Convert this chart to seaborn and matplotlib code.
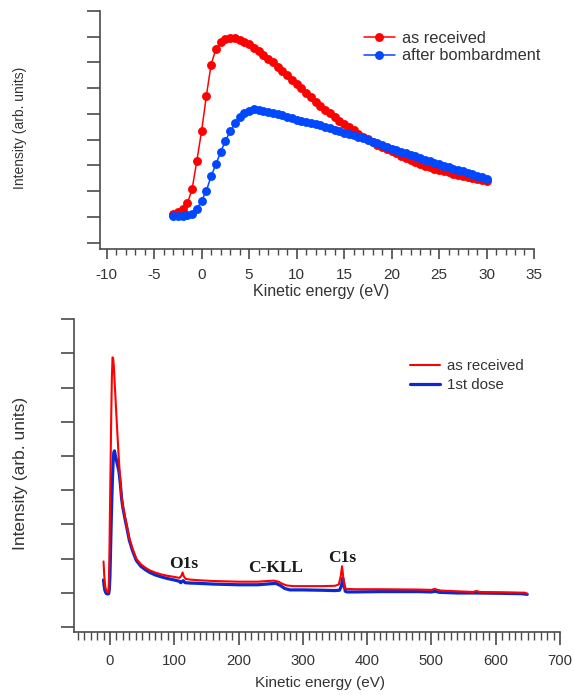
import numpy as np
import matplotlib
matplotlib.use("Agg")
import matplotlib.pyplot as plt
import seaborn as sns
from matplotlib.ticker import MultipleLocator

sns.set_theme(style="ticks")
plt.rcParams['font.family'] = ['Liberation Sans', 'DejaVu Sans']
plt.rcParams['axes.unicode_minus'] = False

# --- top panel: low energy region (eV) ---
energy_top = [-3.0, -2.5, -2.0, -1.5, -1.0, -0.5, 0.0, 0.5, 1.0, 1.5, 2.0, 2.5, 3.0, 3.5,
              4.0, 4.5, 5.0, 5.5, 6.0, 6.5, 7.0, 7.5, 8.0, 8.5, 9.0, 9.5, 10.0, 10.5,
              11.0, 11.5, 12.0, 12.5, 13.0, 13.5, 14.0, 14.5, 15.0, 15.5, 16.0, 16.5,
              17.0, 17.5, 18.0, 18.5, 19.0, 19.5, 20.0, 20.5, 21.0, 21.5, 22.0, 22.5,
              23.0, 23.5, 24.0, 24.5, 25.0, 25.5, 26.0, 26.5, 27.0, 27.5, 28.0, 28.5,
              29.0, 29.5, 30.0]
received_top = [1.12, 1.20, 1.32, 1.53, 2.08, 3.19, 4.34, 5.70, 6.92, 7.52, 7.80, 7.91, 7.95, 7.94,
                7.89, 7.81, 7.71, 7.58, 7.44, 7.30, 7.15, 7.00, 6.84, 6.67, 6.50, 6.33, 6.16, 5.99,
                5.82, 5.65, 5.48, 5.31, 5.16, 5.02, 4.87, 4.73, 4.60, 4.48, 4.36, 4.24,
                4.12, 4.01, 3.90, 3.80, 3.71, 3.63, 3.56, 3.47, 3.38, 3.29, 3.20, 3.12,
                3.05, 2.99, 2.93, 2.88, 2.83, 2.78, 2.73, 2.68, 2.63, 2.58, 2.54, 2.50,
                2.46, 2.42, 2.38]
bombarded_top = [1.05, 1.04, 1.04, 1.06, 1.12, 1.31, 1.63, 2.02, 2.58, 3.04, 3.52, 3.95, 4.32, 4.64,
                 4.88, 5.02, 5.12, 5.18, 5.15, 5.12, 5.08, 5.04, 5.00, 4.96, 4.90, 4.84, 4.78, 4.74,
                 4.70, 4.65, 4.61, 4.56, 4.50, 4.44, 4.38, 4.33, 4.27, 4.22, 4.17, 4.11,
                 4.06, 4.00, 3.93, 3.86, 3.79, 3.72, 3.65, 3.59, 3.53, 3.47, 3.41, 3.36,
                 3.29, 3.23, 3.16, 3.10, 3.04, 2.99, 2.94, 2.88, 2.83, 2.78, 2.72, 2.66,
                 2.60, 2.54, 2.48]

# --- bottom panel: survey spectrum (eV) ---
energy_red = [-10, -9, -8, -7, -5, -3, -2, -1, 0, 1, 2, 3, 4, 5, 6, 8, 10, 12, 14, 16, 18, 20,
              23, 26, 30, 35, 41, 48, 55, 62, 70, 80, 90, 100, 108, 111, 113, 115, 118, 125,
              140, 160, 180, 200, 230, 245, 255, 262, 268, 275, 285, 300, 330, 350, 356, 359,
              361, 363, 365, 368, 380, 420, 480, 500, 505, 510, 515, 540, 565, 570, 575, 610,
              640, 645, 649]
received_survey = [1.92, 1.55, 1.30, 1.15, 1.05, 1.02, 1.10, 1.90, 3.40, 4.80, 6.20, 7.30, 7.88,
                   7.85, 7.62, 6.90, 6.20, 5.50, 4.85, 4.30, 3.80, 3.55, 3.25, 2.98, 2.60, 2.30,
                   2.00, 1.84, 1.74, 1.66, 1.60, 1.54, 1.50, 1.47, 1.44, 1.50, 1.60, 1.48, 1.41,
                   1.39, 1.37, 1.35, 1.34, 1.33, 1.33, 1.35, 1.36, 1.33, 1.27, 1.22, 1.20, 1.20,
                   1.20, 1.21, 1.25, 1.50, 1.78, 1.45, 1.15, 1.12, 1.11, 1.11, 1.10, 1.09, 1.12,
                   1.09, 1.07, 1.05, 1.03, 1.06, 1.03, 1.02, 1.01, 1.01, 0.98]
energy_blue = [-10, -9, -8, -6, -4, -2, -1, 0, 1, 2, 3, 4, 5, 6, 7, 8, 10, 12, 14, 16, 18, 20,
               23, 26, 30, 35, 41, 48, 55, 62, 70, 80, 90, 100, 108, 110, 112, 114, 117, 125,
               140, 160, 180, 200, 230, 250, 258, 265, 272, 280, 300, 330, 350, 357, 360, 362,
               364, 366, 369, 380, 420, 480, 500, 506, 512, 540, 570, 610, 640, 649]
dose_survey = [1.38, 1.20, 1.08, 0.99, 0.97, 0.98, 1.10, 1.50, 2.30, 3.10, 3.80, 4.40, 4.85,
               5.10, 5.15, 5.05, 4.88, 4.72, 4.55, 4.22, 3.78, 3.50, 3.20, 2.93, 2.55, 2.24,
               1.95, 1.78, 1.68, 1.60, 1.53, 1.47, 1.42, 1.38, 1.34, 1.30, 1.33, 1.36, 1.30,
               1.29, 1.28, 1.26, 1.25, 1.24, 1.24, 1.27, 1.28, 1.22, 1.13, 1.09, 1.09, 1.08,
               1.07, 1.08, 1.20, 1.43, 1.25, 1.05, 1.03, 1.03, 1.04, 1.04, 1.03, 1.05, 1.02,
               1.00, 1.00, 0.99, 0.98, 0.96]

peak_labels = ['O1s', 'C-KLL', 'C1s']
peak_x = [115, 257, 361]
peak_y = [1.85, 1.73, 2.02]

RED = '#ff0000'
BLUE_TOP = '#0048ff'
BLUE_BOT = '#0a2ad0'
AXC = '#4a4a4a'


def style_axes(ax, xlim, ylim, xmaj, xmin, tick_fs, maj_len, min_len, pad):
    sns.despine(ax=ax)
    for s in ['left', 'bottom']:
        ax.spines[s].set_color(AXC)
        ax.spines[s].set_linewidth(1.2)
    ax.set_xlim(*xlim)
    ax.set_ylim(*ylim)
    ax.set_yticks(range(10))
    ax.set_yticklabels([])
    ax.xaxis.set_major_locator(MultipleLocator(xmaj))
    ax.xaxis.set_minor_locator(MultipleLocator(xmin))
    ax.tick_params(axis='y', length=9.2, width=1.2, color=AXC, direction='out')
    ax.tick_params(axis='x', which='major', length=maj_len, width=1.2, color=AXC,
                   direction='out', labelsize=tick_fs, labelcolor='#333333', pad=pad)
    ax.tick_params(axis='x', which='minor', length=min_len, width=1.0, color=AXC, direction='out')
    ax.grid(False)


fig = plt.figure(figsize=(5.74, 6.95), dpi=100)
ax1 = fig.add_axes([0.1742, 0.6417, 0.7561, 0.3425])
ax2 = fig.add_axes([0.1294, 0.0911, 0.8462, 0.4499])

# top panel
sns.lineplot(x=energy_top, y=received_top, ax=ax1, color=RED, marker='o', markersize=6.4,
             markeredgewidth=0, linewidth=1.1, estimator=None, sort=False, label='as received')
sns.lineplot(x=energy_top, y=bombarded_top, ax=ax1, color=BLUE_TOP, marker='o', markersize=6.4,
             markeredgewidth=0, linewidth=1.1, estimator=None, sort=False, label='after bombardment')
style_axes(ax1, (-10.7, 35), (-0.245, 9), 5, 1, 11, 7.2, 4.6, 6.5)
ax1.set_xlabel('Kinetic energy (eV)', fontsize=11.5, color='#333333')
ax1.set_ylabel('Intensity (arb. units)', fontsize=10, color='#333333')
ax1.xaxis.set_label_coords(0.509, -0.145)
ax1.yaxis.set_label_coords(-0.168, 0.51)
ax1.legend(loc='upper left', bbox_to_anchor=(0.608, 0.918), frameon=False, fontsize=11.8,
           handlelength=1.9, handletextpad=0.4, labelspacing=0.18, borderpad=0, borderaxespad=0,
           labelcolor='#333333')

# bottom panel
sns.lineplot(x=energy_red, y=received_survey, ax=ax2, color=RED, linewidth=1.5,
             estimator=None, sort=False, label='as received', zorder=3)
sns.lineplot(x=energy_blue, y=dose_survey, ax=ax2, color=BLUE_BOT, linewidth=2.3,
             estimator=None, sort=False, label='1st dose', zorder=2)
style_axes(ax2, (-55.5, 700), (-0.13, 9), 100, 10, 10.7, 9.4, 5.8, 6.8)
ax2.set_xlabel('Kinetic energy (eV)', fontsize=11, color='#333333')
ax2.set_ylabel('Intensity (arb. units)', fontsize=12.5, color='#333333')
ax2.xaxis.set_label_coords(0.505, -0.142)
ax2.yaxis.set_label_coords(-0.095, 0.506)
ax2.legend(loc='upper left', bbox_to_anchor=(0.691, 0.872), frameon=False, fontsize=10.8,
           handlelength=2.0, handletextpad=0.45, labelspacing=0.33, borderpad=0, borderaxespad=0,
           labelcolor='#333333')

for lab, px, py in zip(peak_labels, peak_x, peak_y):
    ax2.text(px, py, lab, ha='center', va='center', fontsize=12.5, fontweight='bold',
             family='Liberation Serif', color='#1a1a1a')

fig.savefig('out.png', dpi=100)
